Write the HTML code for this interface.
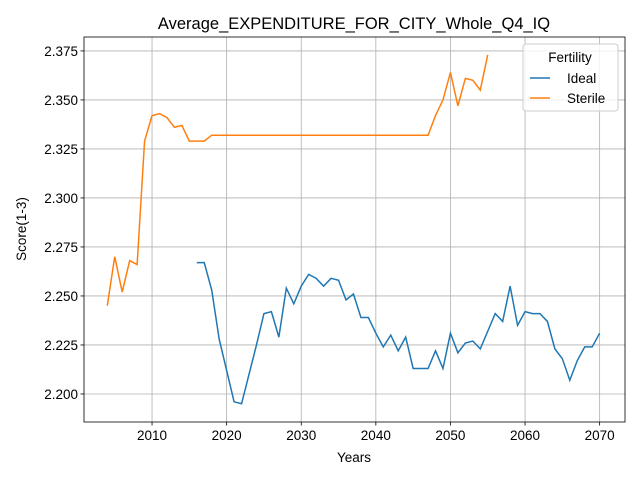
<!DOCTYPE html>
<html><head><meta charset="utf-8"><style>
body{margin:0;background:#fff;font-family:"Liberation Sans",sans-serif}
text{font-family:"Liberation Sans",sans-serif}
</style></head><body>
<svg id="c" width="640" height="480"></svg>
<script>
const sterileYears=[2004,2005,2006,2007,2008,2009,2010,2011,2012,2013,2014,2015,2016,2017,2018,2019,2020,2021,2022,2023,2024,2025,2026,2027,2028,2029,2030,2031,2032,2033,2034,2035,2036,2037,2038,2039,2040,2041,2042,2043,2044,2045,2046,2047,2048,2049,2050,2051,2052,2053,2054,2055];
const sterileValues=[2.245,2.270,2.252,2.268,2.266,2.329,2.342,2.343,2.341,2.336,2.337,2.329,2.329,2.329,2.332,2.332,2.332,2.332,2.332,2.332,2.332,2.332,2.332,2.332,2.332,2.332,2.332,2.332,2.332,2.332,2.332,2.332,2.332,2.332,2.332,2.332,2.332,2.332,2.332,2.332,2.332,2.332,2.332,2.332,2.342,2.350,2.364,2.347,2.361,2.360,2.355,2.373];
const idealYears=[2016,2017,2018,2019,2020,2021,2022,2023,2024,2025,2026,2027,2028,2029,2030,2031,2032,2033,2034,2035,2036,2037,2038,2039,2040,2041,2042,2043,2044,2045,2046,2047,2048,2049,2050,2051,2052,2053,2054,2055,2056,2057,2058,2059,2060,2061,2062,2063,2064,2065,2066,2067,2068,2069,2070];
const idealValues=[2.267,2.267,2.253,2.228,2.212,2.196,2.195,2.210,2.225,2.241,2.242,2.229,2.254,2.246,2.255,2.261,2.259,2.255,2.259,2.258,2.248,2.251,2.239,2.239,2.231,2.224,2.230,2.222,2.229,2.213,2.213,2.213,2.222,2.213,2.231,2.221,2.226,2.227,2.223,2.232,2.241,2.237,2.255,2.235,2.242,2.241,2.241,2.237,2.223,2.218,2.207,2.217,2.224,2.224,2.231];
const xTicks=[2010,2020,2030,2040,2050,2060,2070];
const yTicks=[2.200,2.225,2.250,2.275,2.300,2.325,2.350,2.375];
const L=84,R=625,T=37,B=422,x0=2000.88,x1=2073.4,y0=2.1857,y1=2.3821;
const sx=v=>L+(v-x0)/(x1-x0)*(R-L);
const sy=v=>B-(v-y0)/(y1-y0)*(B-T);
const svg=document.getElementById('c');const NS='http://www.w3.org/2000/svg';
function mk(t,a,p){const e=document.createElementNS(NS,t);for(const k in a)e.setAttribute(k,a[k]);(p||svg).appendChild(e);return e;}
let e;
xTicks.forEach(t=>{const x=sx(t);
e=mk('line',{x1:x,x2:x,y1:T,y2:B,stroke:'#b0b0b0','stroke-width':0.8});


mk('line',{x1:x,x2:x,y1:B,y2:B+3.5,stroke:'#000','stroke-width':0.8});
e=mk('text',{x:x,y:B+18,'text-anchor':'middle','font-size':13.5});e.textContent=t;

});
yTicks.forEach(t=>{const y=sy(t);
e=mk('line',{x1:L,x2:R,y1:y,y2:y,stroke:'#b0b0b0','stroke-width':0.8});


mk('line',{x1:L-3.5,x2:L,y1:y,y2:y,stroke:'#000','stroke-width':0.8});
e=mk('text',{x:L-6,y:y+5,'text-anchor':'end','font-size':13.5});e.textContent=t.toFixed(3);

});
function line(xs,vs,c,n){e=mk('polyline',{points:xs.map((x,i)=>sx(x)+','+sy(vs[i])).join(' '),fill:'none',stroke:c,'stroke-width':1.5});

}
line(idealYears,idealValues,'#1f77b4','ideal-line');
line(sterileYears,sterileValues,'#ff7f0e','sterile-line');
e=mk('rect',{x:L,y:T,width:R-L,height:B-T,fill:'none',stroke:'#000','stroke-width':0.8});


</script>
<svg width="640" height="480" style="position:absolute;left:0;top:0">
<text x="354" y="29" text-anchor="middle" font-size="16.5">Average_EXPENDITURE_FOR_CITY_Whole_Q4_IQ</text>
<text x="354" y="462" text-anchor="middle" font-size="13.5">Years</text>
<text transform="translate(26,229) rotate(-90)" text-anchor="middle" font-size="13.5">Score(1-3)</text>
<g>
<rect x="523" y="44" width="95" height="67" rx="3" fill="#fff" fill-opacity="0.8" stroke="#ccc"/>
<text x="570" y="62" text-anchor="middle" font-size="13.5">Fertility</text>
<line x1="530" x2="550" y1="78" y2="78" stroke="#1f77b4" stroke-width="1.5"/>
<text x="567" y="83" font-size="13.5">Ideal</text>
<line x1="530" x2="550" y1="98" y2="98" stroke="#ff7f0e" stroke-width="1.5"/>
<text x="567" y="103" font-size="13.5">Sterile</text>
</g>
</svg>
</body></html>
